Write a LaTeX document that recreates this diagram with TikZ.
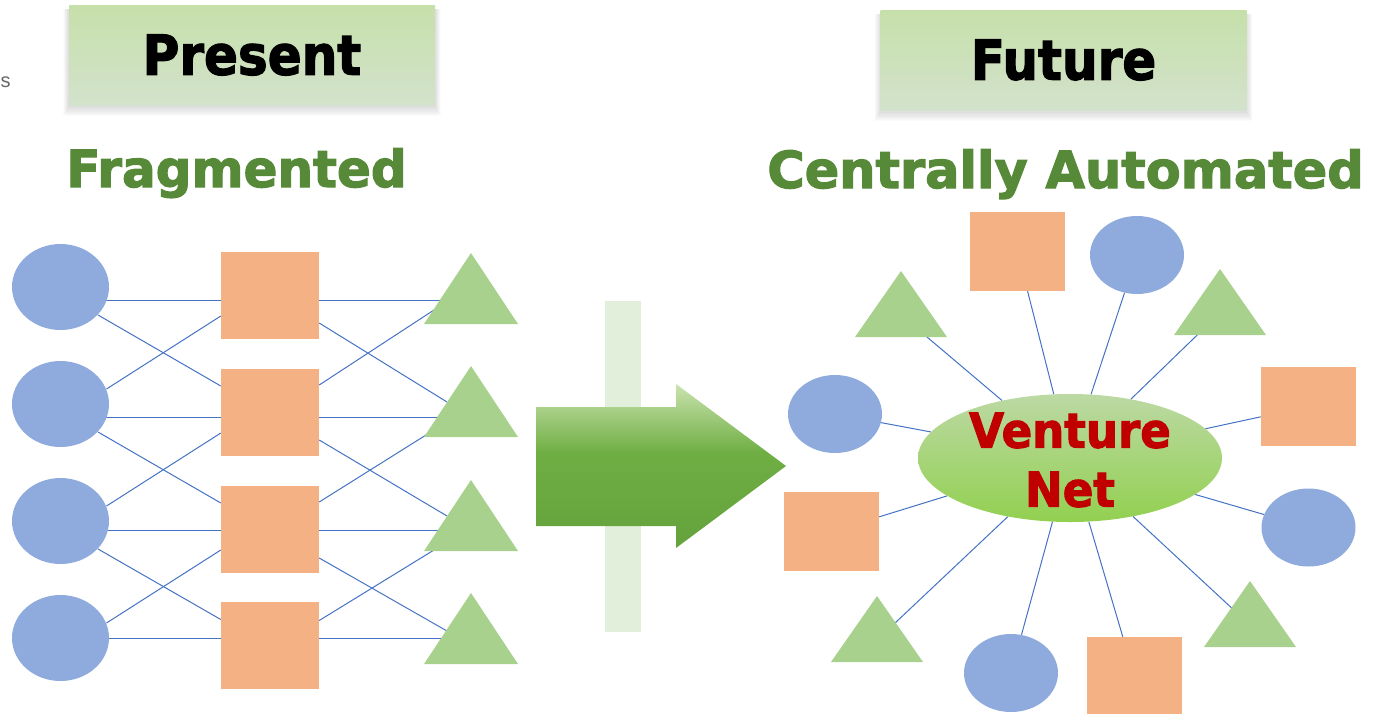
\documentclass[tikz,border=0pt]{standalone}
\usepackage{fontspec}
\setmainfont{Liberation Sans}
\newfontfamily\hd{DejaVu Sans}[BoldFeatures={FakeBold=2.3}]
\usetikzlibrary{shapes.geometric,calc,backgrounds}
\definecolor{cblue}{HTML}{8FAADC}
\definecolor{sorange}{HTML}{F4B183}
\definecolor{tgreen}{HTML}{A9D18E}
\definecolor{lblue}{HTML}{4472C4}
\definecolor{hgreen}{HTML}{578A38}
\definecolor{vnred}{HTML}{C00000}
\definecolor{barg}{HTML}{E2EFDA}
\definecolor{arrtop}{HTML}{C9E3AE}
\definecolor{arrmid}{HTML}{6FAE43}
\definecolor{arrbot}{HTML}{64A23C}
\definecolor{elltop}{HTML}{BCD9A4}
\definecolor{ellbot}{HTML}{92D050}
\definecolor{boxtop}{HTML}{C6E0AA}
\definecolor{boxbot}{HTML}{D3E2CC}
\pgfdeclareverticalshading{arrowshade}{100bp}{color(0bp)=(arrbot); color(25bp)=(arrbot); color(54bp)=(arrmid); color(75bp)=(arrtop); color(100bp)=(arrtop)}
\begin{document}
\begin{tikzpicture}[x=1pt,y=-1pt,
  link/.style={draw=lblue, line width=1pt},
  circL/.style={ellipse, fill=cblue, inner sep=0pt, minimum width=97pt, minimum height=86pt},
  circR/.style={ellipse, fill=cblue, inner sep=0pt, minimum width=94pt, minimum height=78pt},
  sqL/.style={rectangle, fill=sorange, inner sep=0pt, minimum width=98pt, minimum height=87pt},
  sqR/.style={rectangle, fill=sorange, inner sep=0pt, minimum width=95pt, minimum height=79pt},
  trifill/.style={fill=tgreen},
  hbox/.style={rectangle, inner sep=0pt, minimum width=366pt, minimum height=100pt,
     top color=boxtop, bottom color=boxbot, font=\hd\bfseries\fontsize{55}{60}\selectfont},
  heading/.style={text=hgreen, font=\hd\bfseries\fontsize{51}{60}\selectfont, anchor=base, inner sep=0pt},
  hshadow/.style={fill=black, opacity=0.014},
]
\useasboundingbox (0,0) rectangle (1374,713);

% small glyph at the left edge
\node[anchor=base west, inner sep=0pt, text=black!60, font=\fontsize{20}{20}\selectfont] (frag) at (0.5,87) {s};

% header boxes
\node[hbox] (present) at (252,55) {\scalebox{0.91}[1]{Present}};
\node[hbox] (future) at (1063.5,60) {\scalebox{0.91}[1]{Future}};

% headings
\node[heading] (fragm) at (236.5,187) {\scalebox{0.98}[1]{Fragmented}};
\node[heading] (central) at (1065.5,188) {Centrally Automated};

% ---- left network ----
\node[circL] (c1) at (60.5,287) {};
\node[circL] (c2) at (60.5,404) {};
\node[circL] (c3) at (60.5,521) {};
\node[circL] (c4) at (60.5,638) {};
\node[sqL] (s1) at (270,295) {};
\node[sqL] (s2) at (270,412) {};
\node[sqL] (s3) at (270,529) {};
\node[sqL] (s4) at (270,645.5) {};
\coordinate (t1) at (471,253);
\coordinate (t2) at (471,366);
\coordinate (t3) at (471,480);
\coordinate (t4) at (471,593);
\foreach \t in {t1,t2,t3,t4}
  \fill[trifill] (\t) -- ++(47,71) -- ++(-94,0) -- cycle;

% ---- middle arrow ----
\fill[barg] (605,301) rectangle (641,632);
\shade[shading=arrowshade]
  (536,407) -- (676,407) -- (676,384) -- (786,466) -- (676,548) -- (676,526) -- (536,526) -- cycle;

% ---- right network ----
\node[ellipse, inner sep=0pt, minimum width=304pt, minimum height=128pt,
      top color=elltop, bottom color=ellbot] (vn) at (1070,458) {};
\node[text=vnred, font=\hd\bfseries\fontsize{48}{59}\selectfont, align=center, inner sep=0pt]
  (vntext) at (1070,460) {\scalebox{0.94}[1]{Venture}\\\scalebox{0.94}[1]{Net}};

\node[circR] (cT) at (1137,255) {};
\node[circR] (cL) at (835,414) {};
\node[circR] (cR) at (1308.5,527.5) {};
\node[circR] (cB) at (1011,673) {};
\node[sqR] (sqT) at (1017.5,251.5) {};
\node[sqR] (sqRt) at (1308.5,406.5) {};
\node[sqR] (sqL) at (831.5,531.5) {};
\node[sqR] (sqB) at (1134.5,676.5) {};
\coordinate (tUL) at (901,315);
\coordinate (tUR) at (1220,313);
\coordinate (tLL) at (877,640);
\coordinate (tLR) at (1250,625);
\foreach \t in {tUL,tUR,tLL,tLR}
  \fill[trifill] ($(\t)+(0,-44)$) -- ++(46,66) -- ++(-92,0) -- cycle;

% ---- connectors (behind the shapes) ----
\begin{scope}[on background layer]
  % header shadows
  \foreach \b in {present,future}
    \foreach \k in {1,...,8}
      \fill[hshadow] ($(\b.south west)+(-0.7*\k,2+1.1*\k)$) rectangle ($(\b.north east)+(0.7*\k,4)$);
  % left: horizontal rows
  \draw[link] ($(c1)+(0,13)$) coordinate (h1) -- (h1 -| t1);
  \draw[link] ($(c2)+(0,13)$) coordinate (h2) -- (h2 -| t2);
  \draw[link] ($(c3)+(0,9)$) coordinate (h3) -- (h3 -| t3);
  \draw[link] ($(c4)+(0,0)$) coordinate (h4) -- (h4 -| t4);
  % left: circles to squares
  \draw[link] ($(c1)+(37.5,28)$) -- ($(s2.west)+(0,-26)$);
  \draw[link] ($(c2)+(37.5,28)$) -- ($(s3.west)+(0,-26)$);
  \draw[link] ($(c3)+(37.5,28)$) -- ($(s4.west)+(0,-26)$);
  \draw[link] ($(c2)+(46,-15)$) -- ($(s1.west)+(0,21)$);
  \draw[link] ($(c3)+(46,-15)$) -- ($(s2.west)+(0,21)$);
  \draw[link] ($(c4)+(46,-15)$) -- ($(s3.west)+(0,21)$);
  % left: squares to triangles
  \draw[link] ($(s1.east)+(0,28)$) -- ($(t2)+(-24,36)$);
  \draw[link] ($(s2.east)+(0,28)$) -- ($(t3)+(-24,36)$);
  \draw[link] ($(s3.east)+(0,29)$) -- ($(t4)+(-24,38)$);
  \draw[link] ($(s2.east)+(0,-27)$) -- ($(t1)+(-37,57)$);
  \draw[link] ($(s3.east)+(0,-27)$) -- ($(t2)+(-37,64)$);
  \draw[link] ($(s4.east)+(0,-25)$) -- ($(t3)+(-37,70)$);
  % right: spokes to Venture Net
  \foreach \n in {cT,cL,cR,cB,sqT,sqRt,sqL,sqB,tUL,tUR,tLL,tLR}
    \draw[link] (\n) -- (vn);
\end{scope}
\end{tikzpicture}
\end{document}
